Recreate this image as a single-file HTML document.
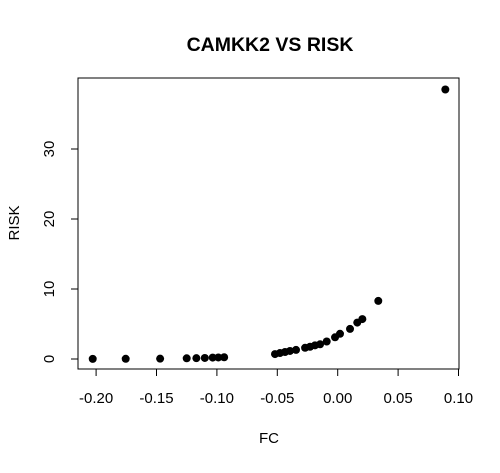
<!DOCTYPE html>
<html><head><meta charset="utf-8"><style>
body{margin:0;background:#fff;}
svg text{font-family:"Liberation Sans",Arial,sans-serif;fill:#000;}
</style></head><body>
<svg id="chart" width="500" height="468">
<text x="270" y="51" text-anchor="middle" font-size="19.5" font-weight="bold">CAMKK2 VS RISK</text>
<rect x="78" y="78" width="381" height="291" fill="none" stroke="#000" stroke-width="1"/>
<g id="xaxis"></g>
<g id="yaxis"></g>
<text x="269" y="443" text-anchor="middle" font-size="15">FC</text>
<text x="0" y="0" transform="translate(19,223) rotate(-90)" text-anchor="middle" font-size="15">RISK</text>
<g id="points"></g>
</svg>
<script>
const fcValues=[-0.2028,-0.1755,-0.147,-0.125,-0.117,-0.110,-0.1035,-0.0988,-0.094,-0.0519,-0.0478,-0.0436,-0.0395,-0.0345,-0.027,-0.0229,-0.0188,-0.0146,-0.0091,-0.0022,0.0019,0.0102,0.0162,0.0204,0.0336,0.0891];
const riskValues=[0.02,0.03,0.05,0.1,0.12,0.15,0.2,0.22,0.25,0.7,0.85,1.0,1.15,1.3,1.6,1.75,1.95,2.1,2.5,3.1,3.6,4.3,5.2,5.7,8.3,38.5];
const xTicks=[-0.20,-0.15,-0.10,-0.05,0.00,0.05,0.10];
const xTickLabels=["-0.20","-0.15","-0.10","-0.05","0.00","0.05","0.10"];
const yTicks=[0,10,20,30];
const yTickLabels=["0","10","20","30"];
const NS="http://www.w3.org/2000/svg";
const xs=v=>337.7+v*1208;
const ys=v=>359-v*7.0;
function mk(t,a,p){const e=document.createElementNS(NS,t);for(const k in a)e.setAttribute(k,a[k]);p.appendChild(e);return e;}
const xa=document.getElementById('xaxis');
mk('line',{x1:xs(xTicks[0]),x2:xs(xTicks[xTicks.length-1]),y1:369,y2:369,stroke:'#000'},xa);
xTicks.forEach((t,i)=>{
 const l=mk('line',{x1:xs(t),x2:xs(t),y1:369,y2:376,stroke:'#000'},xa);
 
 
 const tx=mk('text',{x:xs(t),y:403,'text-anchor':'middle','font-size':'15'},xa);
 tx.textContent=xTickLabels[i];
 
 
});
const ya=document.getElementById('yaxis');
mk('line',{x1:78,x2:78,y1:ys(yTicks[0]),y2:ys(yTicks[yTicks.length-1]),stroke:'#000'},ya);
yTicks.forEach((t,i)=>{
 const l=mk('line',{x1:71,x2:78,y1:ys(t),y2:ys(t),stroke:'#000'},ya);
 
 
 const tx=mk('text',{x:0,y:0,transform:`translate(54,${ys(t)}) rotate(-90)`,'text-anchor':'middle','font-size':'15'},ya);
 tx.textContent=yTickLabels[i];
 
 
});
const pg=document.getElementById('points');
fcValues.forEach((v,i)=>{
 const c=mk('circle',{cx:xs(v),cy:ys(riskValues[i]),r:4,fill:'#000'},pg);
 
 
});
</script>
</body></html>
